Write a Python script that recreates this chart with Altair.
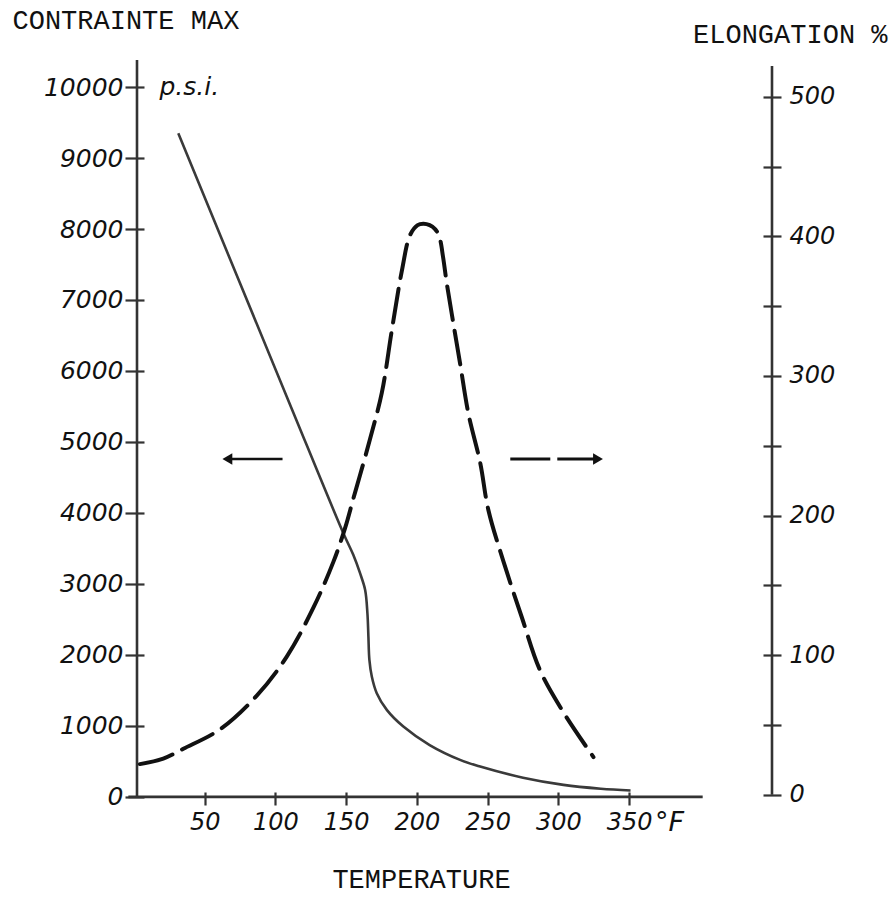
import altair as alt
import pandas as pd

# ---- data ----
stress_temp = [31.3, 108, 148, 155, 159.8, 163.4, 165, 165.7, 166.4, 168.1, 171.6, 178.7, 190.4, 209, 230.5,
               244.7, 275, 303.6, 330, 351]
stress_psi = [9348, 5638, 3714, 3410, 3151, 2915, 2587, 2258, 1930, 1695, 1460, 1225, 990, 730, 521,
              427, 270, 169, 115, 90]

elong_temp = [4.2, 20.7, 34.9, 61, 86.8, 108, 126.8, 141, 149.2, 155, 159.8, 166.9, 175.2, 182.3, 189.3, 195.2,
              200.5, 204.5, 209, 213, 216, 218.5, 221, 224.7, 230.5, 236.4, 244.7, 250.5, 261.2, 274.2, 287.1,
              303.6, 324.8]
elong_pct = [22, 26, 33, 47, 71, 99, 134, 167, 191, 212, 229, 255, 288, 333, 375, 401,
             408, 409, 408, 405, 399, 385, 367, 344, 309, 273, 238, 204, 167, 127, 89,
             59, 27]

temp_ticks = [50, 100, 150, 200, 250, 300, 350]
psi_ticks = [0, 1000, 2000, 3000, 4000, 5000, 6000, 7000, 8000, 9000, 10000]
pct_ticks = [0, 50, 100, 150, 200, 250, 300, 350, 400, 450, 500]

arrow_level = [4760]
left_arrow_temp = [66, 105]
right_arrow_temp = [266, 328]

stress_df = pd.DataFrame({"temp": stress_temp, "psi": stress_psi})
elong_df = pd.DataFrame({"temp": elong_temp, "pct": elong_pct})

XS = alt.Scale(domain=[0, 451], nice=False, zero=False)
YL = alt.Scale(domain=[-30, 10395], nice=False, zero=False)
YR = alt.Scale(domain=[-3, 527], nice=False, zero=False)

INK = "#111111"
AX = "#333333"
HAND = "DejaVu Sans"
TYPE = "Liberation Mono"

x_axis = alt.Axis(values=temp_ticks, domain=False, grid=False, offset=-7, tickSize=13, tickWidth=2.2,
                  tickColor=AX, labelFont=HAND, labelFontStyle="italic", labelFontSize=24, labelColor=INK,
                  labelPadding=5, labelOverlap=False, title="TEMPERATURE", titleFont=TYPE, titleFontSize=27,
                  titleFontWeight="normal", titleColor=INK, titleX=287, titleY=87, titleAlign="center",
                  titleBaseline="middle", titleAngle=0)

left_axis = alt.Axis(values=psi_ticks, format="d", domain=False, grid=False, offset=-10, tickSize=19,
                     tickWidth=2.2, tickColor=AX, labelFont=HAND, labelFontStyle="italic", labelFontSize=25,
                     labelColor=INK, labelPadding=2, labelOverlap=False, title="CONTRAINTE MAX", titleFont=TYPE,
                     titleFontSize=27, titleFontWeight="normal", titleColor=INK, titleX=-132, titleY=-39,
                     titleAlign="left", titleBaseline="middle", titleAngle=0)

right_axis = alt.Axis(orient="right", values=pct_ticks, format="d", domain=False, grid=False, offset=-9,
                      tickSize=18, tickWidth=2.2, tickColor=AX, labelFont=HAND, labelFontStyle="italic",
                      labelFontSize=24, labelColor=INK, labelPadding=8, labelOverlap=False,
                      labelExpr="datum.value % 100 === 0 ? datum.label : ''",
                      title="ELONGATION %", titleFont=TYPE, titleFontSize=27, titleFontWeight="normal",
                      titleColor=INK, titleX=124, titleY=-25, titleAlign="right", titleBaseline="middle",
                      titleAngle=0)


def X(field):
    return alt.X(field, scale=XS, axis=x_axis)


def YLf(field):
    return alt.Y(field, scale=YL, axis=left_axis)


def YRf(field):
    return alt.Y(field, scale=YR, axis=right_axis)


stress_line = alt.Chart(stress_df).mark_line(interpolate="catmull-rom", color="#3a3a3a", strokeWidth=2.6).encode(
    x=X("temp:Q"), y=YLf("psi:Q"))

one = pd.DataFrame({"x0": [-4], "x1": [402], "y0": [0], "lbl": ["°F"], "unit": ["p.s.i."],
                    "ux": [18], "uy": [10000]})

x_line = alt.Chart(one).mark_rule(color=AX, strokeWidth=2.6).encode(
    x=X("x0:Q"), x2="x1:Q", y=YLf("y0:Q"))

left_line = alt.Chart(one).mark_rule(color=AX, strokeWidth=2.6).encode(
    x=alt.value(3), y=alt.value(739), y2=alt.value(1))

deg_f = alt.Chart(one).mark_text(font=HAND, fontStyle="italic", fontSize=27, align="left",
                                 baseline="middle", color=INK).encode(
    x=alt.value(521), y=alt.value(764), text="lbl:N")

psi_unit = alt.Chart(one).mark_text(font=HAND, fontStyle="italic", fontSize=25, align="left",
                                    baseline="middle", color=INK).encode(
    x=X("ux:Q"), y=YLf("uy:Q"), text="unit:N")

la_df = pd.DataFrame({"a": [left_arrow_temp[0]], "b": [left_arrow_temp[1]], "y": arrow_level})
ra_df = pd.DataFrame({"a": [right_arrow_temp[0]], "b": [right_arrow_temp[1]], "y": arrow_level})

la_rule = alt.Chart(la_df).mark_rule(color=INK, strokeWidth=2.6).encode(
    x=X("a:Q"), x2="b:Q", y=YLf("y:Q"))
la_head = alt.Chart(la_df).mark_point(shape="triangle-left", filled=True, size=130, color=INK, opacity=1).encode(
    x=X("a:Q"), y=YLf("y:Q"))
ra_rule = alt.Chart(ra_df).mark_rule(color=INK, strokeWidth=3, strokeDash=[40, 7]).encode(
    x=X("a:Q"), x2="b:Q", y=YLf("y:Q"))
ra_head = alt.Chart(ra_df).mark_point(shape="triangle-right", filled=True, size=130, color=INK, opacity=1).encode(
    x=X("b:Q"), y=YLf("y:Q"))

left_group = alt.layer(stress_line, x_line, left_line, deg_f, psi_unit, la_rule, la_head, ra_rule, ra_head)

elong_line = alt.Chart(elong_df).mark_line(interpolate="catmull-rom", color=INK, strokeWidth=4,
                                           strokeDash=[34, 11], strokeCap="round").encode(
    x=X("temp:Q"), y=YRf("pct:Q"))

r_df = pd.DataFrame({"r0": [0], "r1": [522]})
right_line = alt.Chart(r_df).mark_rule(color=AX, strokeWidth=2.6).encode(
    x=alt.value(638), y=YRf("r0:Q"), y2="r1:Q")

right_group = alt.layer(elong_line, right_line)

chart = alt.layer(left_group, right_group).resolve_scale(y="independent").properties(
    width=638, height=740,
    autosize=alt.AutoSizeParams(type="none"),
    padding={"left": 134, "top": 59, "right": 122, "bottom": 98},
    background="white",
).configure_view(strokeWidth=0)

chart.save("out.html", embed_options={"renderer": "svg", "actions": False})
